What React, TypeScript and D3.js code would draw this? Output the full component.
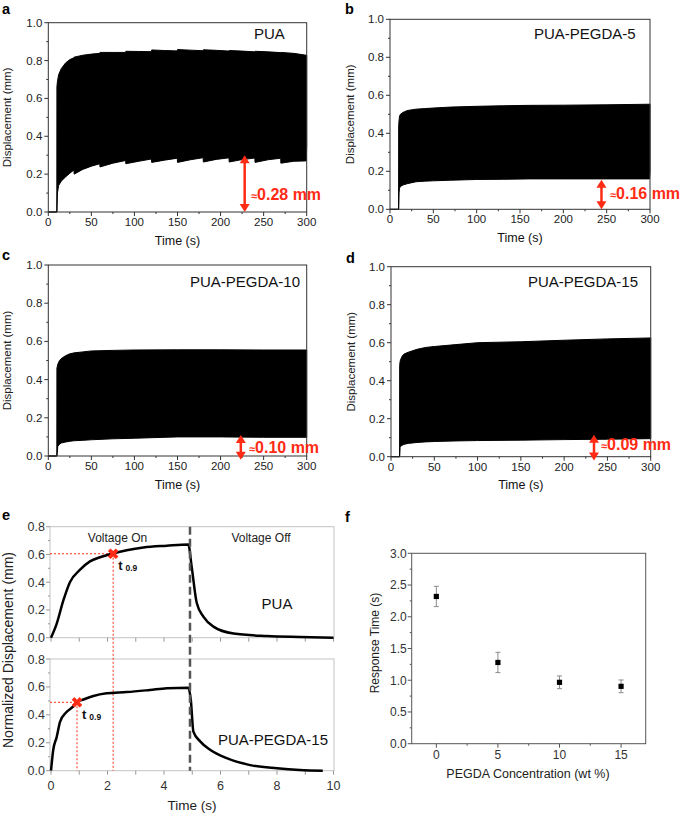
import React from 'react';
import * as d3 from 'd3';

const FONT = '"Liberation Sans", Arial, Helvetica, sans-serif';
const RED = '#ff2b14';

// ---------- Panels a-d: displacement envelopes (upper / lower bounds of the oscillation) ----------
const timeA = [0, 9.9, 10, 10.6, 12, 15, 20, 25, 29.8, 30, 40, 50, 59.8, 60, 75, 89.8, 90, 105, 119.8, 120, 135, 149.8, 150, 165, 179.8, 180, 195, 209.8, 210, 225, 239.8, 240, 255, 269.8, 270, 285, 299.5, 300];
const upperA = [0, 0, 0.66, 0.69, 0.725, 0.757, 0.787, 0.805, 0.815, 0.818, 0.828, 0.834, 0.838, 0.843, 0.843, 0.843, 0.849, 0.848, 0.847, 0.856, 0.853, 0.851, 0.858, 0.855, 0.852, 0.857, 0.854, 0.85, 0.853, 0.85, 0.846, 0.849, 0.846, 0.842, 0.843, 0.838, 0.828, 0.828];
const lowerA = [0, 0, 0, 0.1, 0.14, 0.163, 0.185, 0.205, 0.222, 0.2, 0.225, 0.242, 0.255, 0.238, 0.258, 0.272, 0.255, 0.268, 0.28, 0.262, 0.274, 0.284, 0.262, 0.276, 0.287, 0.264, 0.278, 0.286, 0.264, 0.277, 0.285, 0.262, 0.276, 0.284, 0.258, 0.268, 0.27, 0.35];

const timeB = [0, 9.9, 10, 10.5, 11, 12, 15, 20, 30, 40, 50, 70, 100, 130, 160, 200, 250, 299.5, 300];
const upperB = [0, 0, 0.44, 0.47, 0.49, 0.5, 0.51, 0.52, 0.527, 0.53, 0.533, 0.538, 0.542, 0.545, 0.547, 0.548, 0.55, 0.553, 0.555];
const lowerB = [0, 0, 0, 0.09, 0.11, 0.12, 0.128, 0.135, 0.145, 0.148, 0.15, 0.153, 0.157, 0.158, 0.16, 0.16, 0.16, 0.16, 0.2];

const timeC = [0, 9.9, 10, 10.5, 11, 13, 15, 20, 25, 30, 40, 50, 75, 100, 150, 200, 250, 300];
const upperC = [0, 0, 0.46, 0.47, 0.48, 0.5, 0.51, 0.525, 0.535, 0.54, 0.545, 0.55, 0.553, 0.555, 0.556, 0.556, 0.555, 0.555];
const lowerC = [0, 0, 0, 0.02, 0.05, 0.062, 0.068, 0.073, 0.077, 0.08, 0.082, 0.085, 0.09, 0.093, 0.1, 0.1, 0.098, 0.098];

const timeD = [0, 9.9, 10, 10.5, 11, 13, 15, 20, 30, 40, 50, 75, 100, 150, 200, 250, 300];
const upperD = [0, 0, 0.48, 0.5, 0.51, 0.53, 0.54, 0.55, 0.565, 0.575, 0.58, 0.59, 0.6, 0.605, 0.613, 0.62, 0.625];
const lowerD = [0, 0, 0, 0.05, 0.055, 0.06, 0.065, 0.07, 0.075, 0.078, 0.08, 0.083, 0.085, 0.087, 0.09, 0.092, 0.095];

const sampleNames = ['PUA', 'PUA-PEGDA-5', 'PUA-PEGDA-10', 'PUA-PEGDA-15'];
const offsetNotes = ['0.28 mm', '0.16 mm', '0.10 mm', '0.09 mm'];
const arrowTimes = [228, 244, 223.5, 234.5];
const arrowTops = [0.30, 0.155, 0.11, 0.115];
const arrowBottoms = [0, 0, -0.02, -0.02];

const dispTicks = [0, 0.2, 0.4, 0.6, 0.8, 1.0];
const dispMinor = [0.1, 0.3, 0.5, 0.7, 0.9];
const timeTicks = [0, 50, 100, 150, 200, 250, 300];
const timeMinor = [25, 75, 125, 175, 225, 275];

// ---------- Panel e: single cycle ----------
const cycleTimePUA = [0, 0.2, 0.44, 0.67, 1.03, 1.38, 1.74, 2.15, 2.68, 3.27, 4.1, 4.86, 4.98, 5.16, 5.4, 5.75, 6.46, 7.64, 8.8, 10];
const cycleDispPUA = [0, 0.10, 0.27, 0.40, 0.49, 0.55, 0.58, 0.605, 0.63, 0.65, 0.663, 0.672, 0.51, 0.25, 0.15, 0.08, 0.03, 0.012, 0.005, 0];
const cycleTime15 = [0, 0.08, 0.2, 0.32, 0.55, 0.79, 0.92, 1.15, 1.5, 1.97, 2.68, 3.5, 4.1, 4.86, 4.95, 5.04, 5.28, 5.63, 6.22, 7.05, 8.0, 8.8, 9.62];
const cycleDisp15 = [0, 0.15, 0.24, 0.35, 0.42, 0.46, 0.49, 0.51, 0.535, 0.554, 0.563, 0.578, 0.59, 0.594, 0.506, 0.28, 0.21, 0.15, 0.09, 0.04, 0.017, 0.005, 0];
const t09Times = [2.2, 0.92];
const t09Values = [0.605, 0.49];
const voltageOffTime = 4.92;
const normTicks = [0, 0.2, 0.4, 0.6, 0.8];
const normMinor = [0.1, 0.3, 0.5, 0.7];
const cycleTicks = [0, 2, 4, 6, 8, 10];
const cycleMinor = [1, 3, 5, 7, 9];

// ---------- Panel f: response time ----------
const pegdaConc = [0, 5, 10, 15];
const responseTime = [2.32, 1.28, 0.967, 0.904];
const responseErr = [0.16, 0.16, 0.1, 0.1];
const respTicks = [0, 0.5, 1.0, 1.5, 2.0, 2.5, 3.0];
const respMinor = [0.25, 0.75, 1.25, 1.75, 2.25, 2.75];
const concTicks = [0, 5, 10, 15];
const concMinor = [2.5, 7.5, 12.5];

type OscProps = {
  idx: number;
  x0: number; x1: number; y0: number; y1: number;
  t: number[]; up: number[]; low: number[];
  titleX: number; titleY: number;
  noteX: number; noteY: number;
  letter: string; letterX: number; letterY: number;
  yLabelX: number;
};

function OscPanel(p: OscProps) {
  const x = d3.scaleLinear().domain([0, 300]).range([p.x0, p.x1]);
  const y = d3.scaleLinear().domain([0, 1]).range([p.y1, p.y0]);
  const area = d3
    .area<number>()
    .x((_, i) => x(p.t[i]))
    .y0((_, i) => y(p.low[i]))
    .y1((_, i) => y(p.up[i]));
  const ax = '#333';
  const ax0 = x(arrowTimes[p.idx]);
  const aTop = y(arrowTops[p.idx]);
  const aBot = y(arrowBottoms[p.idx]);
  const hl = 8;
  const hw = 5;
  return (
    <g>
      <path d={area(p.t) || ''} fill="#000" stroke="#000" strokeWidth={1} />
      <rect x={p.x0} y={p.y0} width={p.x1 - p.x0} height={p.y1 - p.y0} fill="none" stroke={ax} strokeWidth={1} />
      {dispTicks.map((v) => (
        <g key={'yt' + v}>
          <line x1={p.x0 - 4} x2={p.x0} y1={y(v)} y2={y(v)} stroke={ax} />
          <text x={p.x0 - 6} y={y(v) + 4} textAnchor="end" fontSize={11.5} fill="#222" fontFamily={FONT}>
            {d3.format('.1f')(v)}
          </text>
        </g>
      ))}
      {dispMinor.map((v) => (
        <line key={'ym' + v} x1={p.x0 - 2} x2={p.x0} y1={y(v)} y2={y(v)} stroke={ax} />
      ))}
      {timeTicks.map((v) => (
        <g key={'xt' + v}>
          <line x1={x(v)} x2={x(v)} y1={p.y1} y2={p.y1 + 4} stroke={ax} />
          <text x={x(v)} y={p.y1 + 14} textAnchor="middle" fontSize={11.5} fill="#222" fontFamily={FONT}>
            {v}
          </text>
        </g>
      ))}
      {timeMinor.map((v) => (
        <line key={'xm' + v} x1={x(v)} x2={x(v)} y1={p.y1} y2={p.y1 + 2} stroke={ax} />
      ))}
      <text x={(p.x0 + p.x1) / 2} y={p.y1 + 32.5} textAnchor="middle" fontSize={12.5} fill="#111" fontFamily={FONT}>
        Time (s)
      </text>
      <text
        transform={`translate(${p.yLabelX},${(p.y0 + p.y1) / 2}) rotate(-90)`}
        textAnchor="middle"
        fontSize={11.5}
        fill="#222"
        fontFamily={FONT}
      >
        Displacement (mm)
      </text>
      <text x={p.titleX} y={p.titleY} fontSize={15} fill="#111" fontFamily={FONT}>
        {sampleNames[p.idx]}
      </text>
      <line x1={ax0} x2={ax0} y1={aTop + hl - 1} y2={aBot - hl + 1} stroke={RED} strokeWidth={2.5} />
      <path d={`M${ax0},${aTop} L${ax0 - hw},${aTop + hl} L${ax0 + hw},${aTop + hl} Z`} fill={RED} />
      <path d={`M${ax0},${aBot} L${ax0 - hw},${aBot - hl} L${ax0 + hw},${aBot - hl} Z`} fill={RED} />
      <text x={p.noteX} y={p.noteY} fontSize={16} fontWeight="bold" fill={RED} fontFamily={FONT}>
        <tspan fontSize={11}>≈</tspan>
        {offsetNotes[p.idx]}
      </text>
      <text x={p.letterX} y={p.letterY} fontSize={14.5} fontWeight="bold" fill="#000" fontFamily={FONT}>
        {p.letter}
      </text>
    </g>
  );
}

function PanelE() {
  const x = d3.scaleLinear().domain([0, 10]).range([51, 333.5]);
  const yT = d3.scaleLinear().domain([0, 0.8]).range([637.7, 526.7]);
  const yB = d3.scaleLinear().domain([0, 0.8]).range([770.7, 659]);
  const frame = '#c4c4c4';
  const tick = '#999';
  const lineTop = d3
    .line<number>()
    .x((_, i) => x(cycleTimePUA[i]))
    .y((v) => yT(v))
    .curve(d3.curveMonotoneX);
  const lineBot = d3
    .line<number>()
    .x((_, i) => x(cycleTime15[i]))
    .y((v) => yB(v))
    .curve(d3.curveMonotoneX);
  const cross = d3.symbol().type(d3.symbolCross).size(70)() || '';
  const scales = [yT, yB];
  const markers = [
    { x: x(t09Times[0]), y: yT(t09Values[0]) },
    { x: x(t09Times[1]), y: yB(t09Values[1]) },
  ];
  return (
    <g fontFamily={FONT}>
      {scales.map((ys, k) => (
        <g key={'ax' + k}>
          <rect x={50} y={ys(0.8)} width={284} height={ys(0) - ys(0.8)} fill="none" stroke={frame} strokeWidth={1} />
          {normTicks.map((v) => (
            <g key={v}>
              <line x1={46} x2={50} y1={ys(v)} y2={ys(v)} stroke={tick} />
              <text x={45} y={ys(v) + 4.5} textAnchor="end" fontSize={12.5} fill="#333">
                {d3.format('.1f')(v)}
              </text>
            </g>
          ))}
          {normMinor.map((v) => (
            <line key={'m' + v} x1={48} x2={50} y1={ys(v)} y2={ys(v)} stroke={tick} />
          ))}
          {cycleTicks.concat(cycleMinor).map((v) => (
            <line key={'x' + v} x1={x(v)} x2={x(v)} y1={ys(0)} y2={ys(0) + 4} stroke={tick} />
          ))}
        </g>
      ))}
      {cycleTicks.map((v) => (
        <text key={'xl' + v} x={x(v)} y={789.5} textAnchor="middle" fontSize={12.5} fill="#333">
          {v}
        </text>
      ))}
      <text x={192} y={810} textAnchor="middle" fontSize={13.5} fill="#222">
        Time (s)
      </text>
      <text transform="translate(13,650) rotate(-90)" textAnchor="middle" fontSize={14} fill="#222">
        Normalized Displacement (mm)
      </text>
      {/* red guide lines */}
      <line x1={50} x2={markers[0].x} y1={markers[0].y} y2={markers[0].y} stroke={RED} strokeWidth={1} strokeDasharray="2 2" />
      <line x1={markers[0].x} x2={markers[0].x} y1={markers[0].y} y2={yB(0)} stroke={RED} strokeWidth={1} strokeDasharray="2 2" />
      <line x1={50} x2={markers[1].x} y1={markers[1].y} y2={markers[1].y} stroke={RED} strokeWidth={1} strokeDasharray="2 2" />
      <line x1={markers[1].x} x2={markers[1].x} y1={markers[1].y} y2={yB(0)} stroke={RED} strokeWidth={1} strokeDasharray="2 2" />
      <path d={lineTop(cycleDispPUA) || ''} fill="none" stroke="#000" strokeWidth={2.5} strokeLinejoin="round" />
      <path d={lineBot(cycleDisp15) || ''} fill="none" stroke="#000" strokeWidth={2.5} strokeLinejoin="round" />
      <line
        x1={x(voltageOffTime)}
        x2={x(voltageOffTime)}
        y1={yT(0.8)}
        y2={yB(0)}
        stroke="#555"
        strokeWidth={2.5}
        strokeDasharray="8 4"
      />
      {markers.map((m, k) => (
        <g key={'mk' + k}>
          <path d={cross} transform={`translate(${m.x},${m.y}) rotate(45)`} fill={RED} />
          <text x={m.x + 5} y={m.y + 16.5} fontSize={13} fontWeight="bold" fill="#111">
            t
            <tspan dx={3} dy={1} fontSize={8.5}>
              0.9
            </tspan>
          </text>
        </g>
      ))}
      <text x={117.5} y={541.5} textAnchor="middle" fontSize={12} fill="#222">
        Voltage On
      </text>
      <text x={261} y={541.5} textAnchor="middle" fontSize={12} fill="#222">
        Voltage Off
      </text>
      <text x={277} y={608.5} textAnchor="middle" fontSize={15} fill="#111">
        {sampleNames[0]}
      </text>
      <text x={273} y={744.5} textAnchor="middle" fontSize={15} fill="#111">
        {sampleNames[3]}
      </text>
      <text x={2} y={520} fontSize={14.5} fontWeight="bold" fill="#000">
        e
      </text>
    </g>
  );
}

function PanelF() {
  const x = d3.scaleLinear().domain([-2, 17]).range([411.7, 645.7]);
  const y = d3.scaleLinear().domain([0, 3]).range([743.7, 553.3]);
  const ax = '#555';
  return (
    <g fontFamily={FONT}>
      <rect x={x(-2)} y={y(3)} width={x(17) - x(-2)} height={y(0) - y(3)} fill="none" stroke={ax} strokeWidth={1} />
      {respTicks.map((v) => (
        <g key={v}>
          <line x1={x(-2) - 4} x2={x(-2)} y1={y(v)} y2={y(v)} stroke={ax} />
          <text x={406.7} y={y(v) + 4.3} textAnchor="end" fontSize={12} fill="#333">
            {d3.format('.1f')(v)}
          </text>
        </g>
      ))}
      {respMinor.map((v) => (
        <line key={'m' + v} x1={x(-2) - 2} x2={x(-2)} y1={y(v)} y2={y(v)} stroke={ax} />
      ))}
      {concTicks.map((v) => (
        <g key={'x' + v}>
          <line x1={x(v)} x2={x(v)} y1={y(0)} y2={y(0) + 4} stroke={ax} />
          <text x={x(v)} y={759.3} textAnchor="middle" fontSize={12} fill="#333">
            {v}
          </text>
        </g>
      ))}
      {concMinor.map((v) => (
        <line key={'xm' + v} x1={x(v)} x2={x(v)} y1={y(0)} y2={y(0) + 2} stroke={ax} />
      ))}
      {pegdaConc.map((c, i) => {
        const cx = x(c);
        const top = y(responseTime[i] + responseErr[i]);
        const bot = y(responseTime[i] - responseErr[i]);
        return (
          <g key={'p' + c}>
            <line x1={cx} x2={cx} y1={top} y2={bot} stroke="#8a8a8a" strokeWidth={1} />
            <line x1={cx - 2.5} x2={cx + 2.5} y1={top} y2={top} stroke="#8a8a8a" strokeWidth={1} />
            <line x1={cx - 2.5} x2={cx + 2.5} y1={bot} y2={bot} stroke="#8a8a8a" strokeWidth={1} />
            <rect x={cx - 2.6} y={y(responseTime[i]) - 2.6} width={5.2} height={5.2} fill="#000" />
          </g>
        );
      })}
      <text x={528} y={777.5} textAnchor="middle" fontSize={12.5} fill="#222">
        PEGDA Concentration (wt %)
      </text>
      <text transform="translate(379,643) rotate(-90)" textAnchor="middle" fontSize={12} fill="#222">
        Response Time (s)
      </text>
      <text x={345} y={522} fontSize={14.5} fontWeight="bold" fill="#000">
        f
      </text>
    </g>
  );
}

export default function App() {
  return (
    <svg
      width={685}
      height={815}
      viewBox="0 0 685 815"
      style={{ position: 'absolute', left: 0, top: 0, background: '#fff' }}
    >
      <rect x={0} y={0} width={685} height={815} fill="#fff" />
      <OscPanel idx={0} x0={48.3} x1={306.7} y0={22.7} y1={212} t={timeA} up={upperA} low={lowerA}
        titleX={254} titleY={39} noteX={251} noteY={200} letter="a" letterX={2} letterY={13.5} yLabelX={11} />
      <OscPanel idx={1} x0={390} x1={650} y0={19.3} y1={209.3} t={timeB} up={upperB} low={lowerB}
        titleX={534} titleY={39} noteX={610} noteY={198.5} letter="b" letterX={345} letterY={14} yLabelX={354} />
      <OscPanel idx={2} x0={48.3} x1={306.7} y0={265} y1={456} t={timeC} up={upperC} low={lowerC}
        titleX={190} titleY={286.5} noteX={249} noteY={453} letter="c" letterX={2} letterY={260} yLabelX={11} />
      <OscPanel idx={3} x0={391} x1={650.7} y0={266.7} y1={456.7} t={timeD} up={upperD} low={lowerD}
        titleX={528} titleY={287} noteX={601} noteY={450} letter="d" letterX={346} letterY={263} yLabelX={355} />
      <PanelE />
      <PanelF />
    </svg>
  );
}
